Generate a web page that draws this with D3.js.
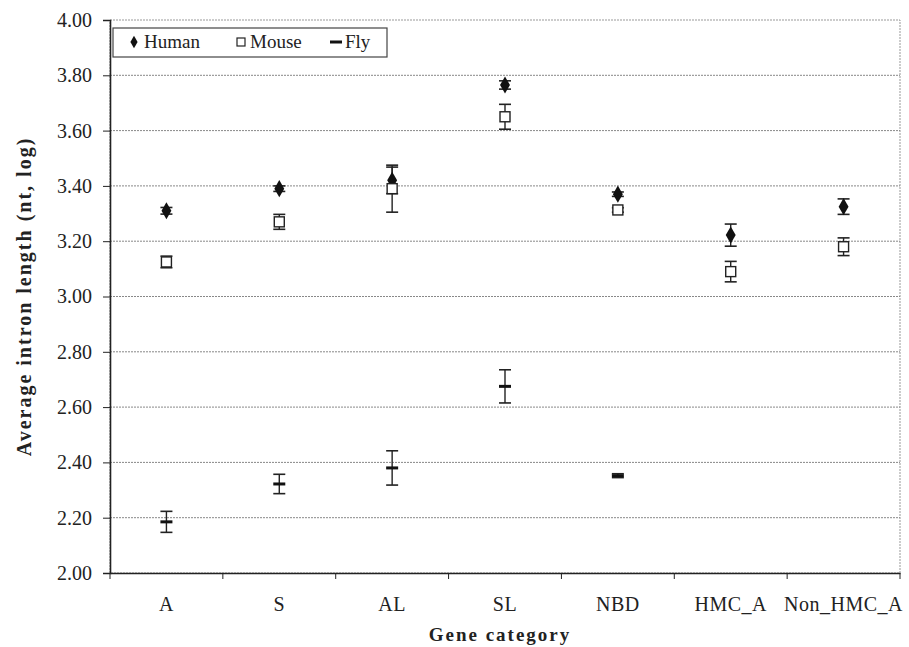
<!DOCTYPE html>
<html>
<head>
<meta charset="utf-8">
<script src="https://cdn.jsdelivr.net/npm/d3@7"></script>
<style>
  body { margin: 0; background: #fff; }
</style>
</head>
<body>
<svg id="chart" width="909" height="647"></svg>
<script>
// gene categories along x
var categories = ["A", "S", "AL", "SL", "NBD", "HMC_A", "Non_HMC_A"];

// mean values (log10 intron length) and error half-widths
var human    = [3.31, 3.39, 3.42, 3.765, 3.37, 3.222, 3.325];
var humanErr = [0.012, 0.01, 0.048, 0.015, 0.008, 0.04, 0.028];
var mouse    = [3.125, 3.27, 3.39, 3.65, 3.313, 3.09, 3.18];
var mouseErr = [0.021, 0.027, 0.085, 0.045, 0.008, 0.037, 0.032];
var fly      = [2.185, 2.322, 2.38, 2.675, 2.352, null, null];
var flyErr   = [0.038, 0.035, 0.062, 0.06, 0.007, null, null];

var yTicks = [2.0, 2.2, 2.4, 2.6, 2.8, 3.0, 3.2, 3.4, 3.6, 3.8, 4.0];

var serif = "'Liberation Serif', 'Times New Roman', Times, 'DejaVu Serif', serif";
var svg = d3.select("#chart");
var margin = {left: 110, right: 9, top: 20, bottom: 74};
var W = 909, H = 647;

var x = d3.scaleBand().domain(categories)
    .range([margin.left, W - margin.right]);
var y = d3.scaleLinear().domain([2, 4])
    .range([H - margin.bottom, margin.top]);

// plot border (right / top thin gray)
svg.append("rect")
    .attr("x", margin.left).attr("y", margin.top)
    .attr("width", W - margin.right - margin.left)
    .attr("height", H - margin.bottom - margin.top)
    .attr("fill", "#fff").attr("stroke", "#999").attr("stroke-width", 1)
    .attr("stroke-dasharray", "2,1");

// gridlines
svg.append("g").selectAll("line")
    .data(yTicks.filter(function (d) { return d > 2 && d < 4; }))
    .enter().append("line")
    .attr("x1", margin.left).attr("x2", W - margin.right)
    .attr("y1", function (d) { return y(d); })
    .attr("y2", function (d) { return y(d); })
    .attr("stroke", "#888").attr("stroke-width", 1)
    .attr("stroke-dasharray", "2,1");

// y axis
var yAxis = svg.append("g")
    .attr("transform", "translate(" + margin.left + ",0)")
    .call(d3.axisLeft(y).tickValues(yTicks).tickFormat(d3.format(".2f")).tickSize(7).tickPadding(11));
yAxis.select(".domain").attr("stroke", "#222").attr("stroke-width", 1.6);
yAxis.selectAll(".tick line").attr("stroke", "#222");
yAxis.selectAll("text").style("font-size", "20px");

// x axis
var xAxis = svg.append("g")
    .attr("transform", "translate(0," + (H - margin.bottom) + ")")
    .call(d3.axisBottom(x).tickSize(0).tickPadding(24));
xAxis.select(".domain").attr("stroke", "#222").attr("stroke-width", 1.6);
xAxis.selectAll("text").style("font-size", "20px").style("letter-spacing", "0.5px");
// ticks between categories
svg.append("g").selectAll("line")
    .data(categories.concat(["_end"]))
    .enter().append("line")
    .attr("x1", function (d, i) { return margin.left + i * x.step(); })
    .attr("x2", function (d, i) { return margin.left + i * x.step(); })
    .attr("y1", H - margin.bottom)
    .attr("y2", H - margin.bottom + 6)
    .attr("stroke", "#222");

// axis titles
svg.append("text")
    .attr("transform", "translate(31," + ((margin.top + H - margin.bottom) / 2) + ") rotate(-90)")
    .attr("text-anchor", "middle")
    .style("font-size", "20px").style("font-weight", "bold").style("letter-spacing", "2px")
    .text("Average intron length (nt, log)");
svg.append("text")
    .attr("x", (margin.left + W - margin.right) / 2 - 5)
    .attr("y", 641)
    .attr("text-anchor", "middle")
    .style("font-size", "19px").style("font-weight", "bold").style("letter-spacing", "2px")
    .text("Gene category");

// error bars + markers
var cap = 6;
function errBars(vals, errs) {
  var g = svg.append("g");
  categories.forEach(function (c, i) {
    if (vals[i] == null) return;
    var cx = x(c) + x.bandwidth() / 2;
    var lo = y(vals[i] - errs[i]), hi = y(vals[i] + errs[i]);
    g.append("line").attr("x1", cx).attr("x2", cx).attr("y1", lo).attr("y2", hi)
      .attr("stroke", "#222").attr("stroke-width", 1.4);
    [lo, hi].forEach(function (yy) {
      g.append("line").attr("x1", cx - cap).attr("x2", cx + cap).attr("y1", yy).attr("y2", yy)
        .attr("stroke", "#222").attr("stroke-width", 1.6);
    });
  });
}
errBars(human, humanErr);
errBars(mouse, mouseErr);
errBars(fly, flyErr);

var diamond = d3.symbol().type(d3.symbolDiamond).size(85);
svg.append("g").selectAll("path")
    .data(human).enter().append("path")
    .attr("d", diamond)
    .attr("transform", function (d, i) { return "translate(" + (x(categories[i]) + x.bandwidth() / 2) + "," + y(d) + ")"; })
    .attr("fill", "#111");

svg.append("g").selectAll("rect")
    .data(mouse).enter().append("rect")
    .attr("x", function (d, i) { return x(categories[i]) + x.bandwidth() / 2 - 5; })
    .attr("y", function (d) { return y(d) - 5; })
    .attr("width", 10).attr("height", 10)
    .attr("fill", "#fff").attr("stroke", "#222").attr("stroke-width", 1.4);

svg.append("g").selectAll("line")
    .data(fly.filter(function (d) { return d != null; })).enter().append("line")
    .attr("x1", function (d, i) { return x(categories[i]) + x.bandwidth() / 2 - 6; })
    .attr("x2", function (d, i) { return x(categories[i]) + x.bandwidth() / 2 + 6; })
    .attr("y1", function (d) { return y(d); })
    .attr("y2", function (d) { return y(d); })
    .attr("stroke", "#111").attr("stroke-width", 3);

// legend
var lg = svg.append("g").attr("transform", "translate(113,28)");
lg.append("rect").attr("width", 274).attr("height", 29)
    .attr("fill", "#fff").attr("stroke", "#444").attr("stroke-width", 1.2);
lg.append("path").attr("d", d3.symbol().type(d3.symbolDiamond).size(45))
    .attr("transform", "translate(21,14)").attr("fill", "#111");
lg.append("text").attr("x", 31).attr("y", 20).style("font-size", "19px").text("Human");
lg.append("rect").attr("x", 124).attr("y", 10).attr("width", 8).attr("height", 8)
    .attr("fill", "#fff").attr("stroke", "#222").attr("stroke-width", 1.2);
lg.append("text").attr("x", 137).attr("y", 20).style("font-size", "19px").text("Mouse");
lg.append("line").attr("x1", 217).attr("x2", 229).attr("y1", 14).attr("y2", 14)
    .attr("stroke", "#111").attr("stroke-width", 3);
lg.append("text").attr("x", 232).attr("y", 20).style("font-size", "19px").text("Fly");

// all text in a Times-like serif, dark gray
svg.selectAll("text").style("font-family", serif).attr("fill", "#222");
</script>
</body>
</html>
